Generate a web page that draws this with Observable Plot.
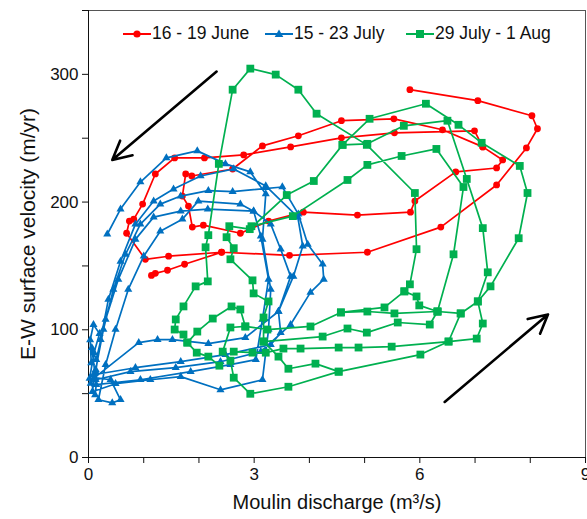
<!DOCTYPE html>
<html><head><meta charset="utf-8">
<script src="https://cdn.jsdelivr.net/npm/d3@7"></script>
<script src="https://cdn.jsdelivr.net/npm/@observablehq/plot@0.6"></script>
<style>
body{margin:0;background:#fff;font-family:"Liberation Sans",Arial,sans-serif;}
#wrap{position:relative;width:587px;height:519px;overflow:hidden;}
.leg{position:absolute;top:23px;display:flex;align-items:center;font-size:17.5px;color:#111;white-space:nowrap;}
.leg svg{margin-right:1px;}
</style></head><body>
<div id="wrap"><div id="chart"></div></div>
<script>
// ---- data (discharge m3/s, velocity m/yr); null = gap in the line ----
const seriesNames = ["16 - 19 June", "15 - 23 July", "29 July - 1 Aug"];
const seriesColors = ["#ff0000", "#0070c0", "#00b050"];

const june = [
  [1.14,142.6],[1.21,144.2],[1.43,146.6],[1.74,151.3],[2.41,160.7], null,
  [1.87,220.4],[2.61,225.9],[3.15,244.0],[3.80,251.9],[4.58,263.7],[5.53,265.2],[6.41,256.6],[7.14,243.2],[7.50,233.0],[7.39,226.7],[6.65,223.6],[5.91,200.8],[5.83,192.1],[4.87,189.8],[3.89,192.1],[3.26,185.1],[2.75,175.6],[2.08,181.9],[1.88,180.4],[1.81,196.9],[1.70,204.7],[1.76,222.0], null,
  [7.14,243.2],[6.99,255.8],[5.54,254.2],[4.58,250.3],[3.66,243.2],[2.81,236.9],[2.10,234.6],[1.56,234.6],[1.21,222.0],[0.98,198.4],[0.82,186.6],[0.74,185.1],[0.69,175.6],[1.03,155.2],[1.45,157.6],[2.41,160.7],[3.64,158.3],[5.05,160.7],[6.38,180.4],[7.39,213.4],[7.93,242.4],[8.13,257.4],[8.03,267.6],[7.05,279.4],[5.82,288.0]
];

const july = [
  [0.05,74.0],[0.03,92.0],[0.09,104.0],[0.20,97.0],[0.10,82.0],[0.02,62.0],[0.12,49.0],
  [0.14,57.0],[0.94,60.9],[1.85,67.2],[2.57,72.7],[3.03,76.6],[3.15,108.1],[3.26,139.5],[3.12,173.3],[2.99,192.9],[2.75,198.4],[1.99,200.8],[1.70,186.6],[1.30,177.2],[1.00,157.6],[0.72,131.6],[0.49,100.2],[0.31,72.7],[0.18,45.2],[0.43,42.8],[0.58,45.2],[0.40,60.9],
  [0.11,62.5],[0.91,90.0],[1.25,92.3],[1.52,92.3],[2.17,89.2],[2.84,93.9],[3.44,114.3],[3.71,141.8],[3.88,165.4],[3.79,188.2],[3.21,212.6],[2.63,225.9],[2.03,220.4],[1.54,210.2],[1.18,200.8],[0.85,182.7],[0.58,153.6],[0.36,123.8],[0.22,92.3],[0.13,67.2],
  [0.04,58.0],[0.09,64.8],[0.85,70.3],[1.67,75.0],[2.48,80.6],[3.30,88.4],[3.48,97.8],[3.44,114.3],[3.66,141.8],[3.48,163.1],[3.30,182.7],[2.99,192.9],[2.16,194.5],[1.67,192.9],[1.18,188.2],[0.85,170.8],[0.54,139.5],[0.31,108.1],[0.14,76.6],
  [0.06,86.0],[0.13,60.9],[0.76,67.2],[1.58,70.3],[2.39,75.0],[3.12,82.9],[3.66,104.1],[4.02,129.3],[4.26,139.5],[4.24,151.3],[3.97,166.9],[3.80,190.6],[3.51,211.8],[2.61,208.2],[2.17,209.0],[1.67,204.7],[1.30,198.4],[0.94,182.7],[0.67,159.1],[0.45,131.6],[0.27,100.2],[0.13,68.8],
  [0.07,51.5],[0.49,57.8],[1.12,60.9],[1.67,63.3],[2.39,53.0],[3.15,60.9],[3.26,100.2],[3.30,131.6],[3.15,170.8],[3.21,206.3],[2.93,223.6],[2.48,229.9],[1.97,240.1],[1.41,234.6],[0.94,215.7],[0.58,194.5],[0.34,174.8]
];

const aug = [
  [2.37,71.9],[2.17,79.0],[1.96,82.1],[1.79,90.0],[1.72,96.3],[1.56,100.2],[1.58,108.1],[1.72,118.3],[1.94,134.0],[2.16,137.9],[2.12,164.6],[2.17,174.1],[2.36,229.9],[2.61,288.0],[2.93,304.5],[3.39,299.8],[3.80,288.0],[4.13,269.2],[5.04,244.8],[5.91,207.1],[5.94,163.1],[5.82,135.6],[5.72,130.1],[5.36,117.5],[4.57,113.6],[4.02,102.6],[3.24,100.2],[2.84,102.6],[2.57,101.8],[2.43,82.9],[2.57,75.8],[2.63,62.5],[2.93,49.9],[3.62,55.4],[4.53,67.2],[6.01,80.6],[6.52,90.8],[7.03,93.1],[7.14,104.9],[7.05,122.2],[7.28,134.0],[7.79,171.7],[7.95,207.1],[7.81,228.3],[7.12,246.4],[6.70,260.5],[6.11,277.0],[5.09,265.2],[4.60,244.8],[4.08,216.5],[3.59,205.5],[2.92,178.8],[2.55,181.1],[2.50,172.5],[2.63,163.9],[2.57,155.2],[2.97,138.7],[2.99,128.5],[3.26,122.2],[3.17,109.6],[3.17,90.8],[3.44,79.0],[3.62,69.5],[4.11,73.5],[4.53,67.2], null,
  [2.63,82.9],[2.97,82.1],[3.21,82.1],[3.53,85.3],[3.84,85.3],[4.53,86.1],[4.89,86.1],[5.49,86.8],[6.52,90.8],[6.74,112.8],[7.05,122.2],[7.23,145.0],[7.14,179.6],[6.85,218.1],[6.50,263.7],[5.71,259.7],[5.05,245.6],[4.60,244.8], null,
  [3.17,90.8],[4.24,94.7],[4.69,101.0],[5.04,97.8],[5.60,105.7],[6.18,104.1],[6.32,114.3],[6.61,159.1],[6.79,211.8],[6.30,241.6],[5.67,236.1],[5.05,229.1],[4.69,217.3],[3.70,189.0],[2.95,181.1], null,
  [2.84,102.6],[2.75,115.9],[2.59,118.3],[2.25,108.8],[1.97,98.6],[1.79,90.0], null,
  [4.57,113.6],[5.05,114.3],[5.54,112.8],[6.32,114.3],[6.74,112.8], null,
  [5.72,130.1],[5.94,126.1],[5.99,119.1],[6.32,114.3]
];

// annotation arrows: [x1, y1, x2, y2]
const arrows = [[2.32,302.2,0.43,233.0],[6.45,43.5,8.32,112.0]];

// axis ticks and titles
const xTicks = [0,1,2,3,4,5,6,7,8,9];
const xLabelled = [0,3,6,9];
const yTicks = [0,50,100,150,200,250,300,350];
const yLabelled = [0,100,200,300];
const xTitle = "Moulin discharge (m³/s)";
const yTitle = "E-W surface velocity (m/yr)";

// ---- build ----
const toRows = arr => arr.map(p => p ? {x:p[0], y:p[1]} : {x:NaN, y:NaN});
const sets = [toRows(june), toRows(july), toRows(aug)];
const symbols = ["circle", "triangle", "square"];
const radii = [3.4, 3.0, 4.4];

const seriesMarks = sets.flatMap((rows, i) => [
  Plot.line(rows, {x:"x", y:"y", stroke: seriesColors[i], strokeWidth: 1.7, curve: "linear"}),
  Plot.dot(rows.filter(d => !isNaN(d.x)), {x:"x", y:"y", symbol: symbols[i], r: radii[i], fill: seriesColors[i], stroke: "none"})
]);

const chart = Plot.plot({
  width: 587, height: 519,
  marginLeft: 88, marginRight: 2, marginTop: 10, marginBottom: 62,
  x: {domain: [0, 9]},
  y: {domain: [0, 350]},
  style: {fontFamily: "'Liberation Sans', Arial, sans-serif", fontSize: "17px", color: "#111", background: "#fff", overflow: "visible"},
  marks: [
    Plot.frame({stroke: "#555", strokeWidth: 1}),
    Plot.axisX({ticks: xTicks, tickFormat: d => xLabelled.includes(d) ? String(d) : "", tickSize: 6, tickPadding: 4, label: null, fontSize: 17}),
    Plot.axisY({ticks: yTicks, tickFormat: d => yLabelled.includes(d) ? String(d) : "", tickSize: 6, tickPadding: 4, label: null, fontSize: 17}),
    Plot.text([xTitle], {frameAnchor: "bottom", dy: 51, fontSize: 20, fill: "#111", textAnchor: "middle"}),
    Plot.text([yTitle], {frameAnchor: "left", dx: -60, rotate: -90, fontSize: 21, fill: "#111", textAnchor: "middle"}),
    Plot.ruleX([0], {stroke: "#111"}),
    Plot.ruleY([0], {stroke: "#111"}),
    ...seriesMarks,
    Plot.arrow(arrows, {x1: d => d[0], y1: d => d[1], x2: d => d[2], y2: d => d[3], stroke: "#000", strokeWidth: 2.6, headLength: 12, headAngle: 55})
  ]
});
document.getElementById("chart").appendChild(chart);

// legend inside plot
const legLeft = [123, 265, 406];
const wrap = document.getElementById("wrap");
seriesNames.forEach((name, i) => {
  const div = document.createElement("div");
  div.className = "leg";
  div.style.left = legLeft[i] + "px";
  const c = seriesColors[i];
  let m;
  if (i === 0) m = `<circle cx="14" cy="8" r="3.6" fill="${c}"/>`;
  else if (i === 1) m = `<polygon points="14,3.5 18.3,11 9.7,11" fill="${c}"/>`;
  else m = `<rect x="10" y="4" width="8" height="8" fill="${c}"/>`;
  div.innerHTML = `<svg width="28" height="16"><line x1="0" y1="8" x2="28" y2="8" stroke="${c}" stroke-width="2"/>${m}</svg><span>${name}</span>`;
  wrap.appendChild(div);
});
</script>
</body></html>
